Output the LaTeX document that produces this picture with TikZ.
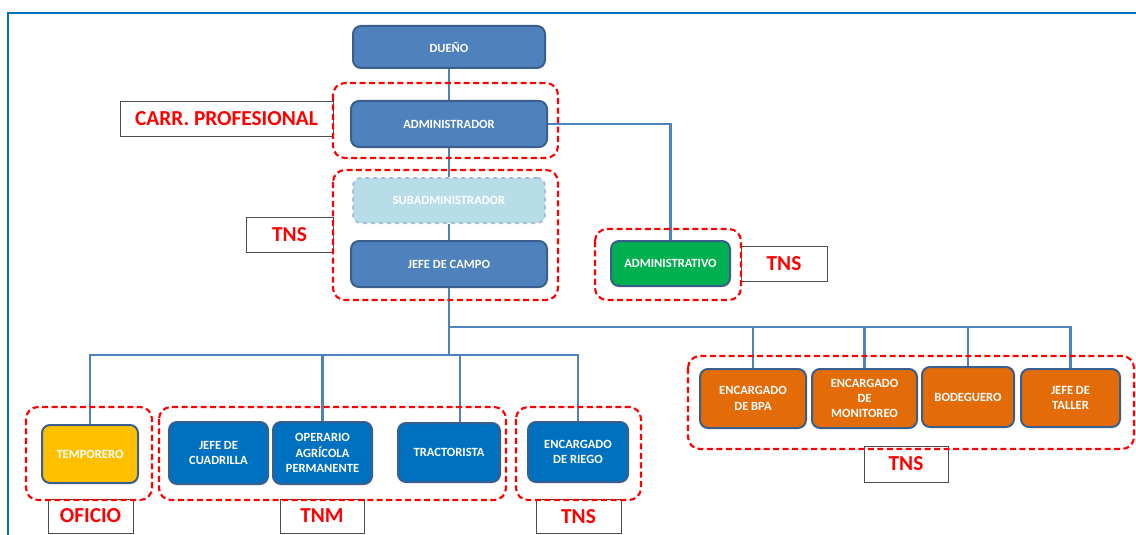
\documentclass[tikz,border=0pt]{standalone}
\usepackage{fontspec}
\setmainfont{Carlito}
\usetikzlibrary{calc}

\definecolor{azul}{HTML}{4F81BD}
\definecolor{azulborde}{HTML}{3A5F8C}
\definecolor{azulfuerte}{HTML}{0070C0}
\definecolor{celeste}{HTML}{B7DEE8}
\definecolor{celesteborde}{HTML}{A9BCD9}
\definecolor{naranjo}{HTML}{E36C09}
\definecolor{verde}{HTML}{00B050}
\definecolor{amarillo}{HTML}{FFC000}
\definecolor{rojo}{HTML}{FF0000}

\tikzset{
  cargo/.style={draw=azulborde, line width=1.5pt, rounded corners=6pt, text=white,
    font=\bfseries\fontsize{9.4}{11.5}\selectfont, align=center, inner sep=1pt},
  grupo/.style={draw=rojo, line width=1.6pt, dash pattern=on 4.5pt off 2.6pt, rounded corners=9pt},
  nivel/.style={draw=black!70, line width=0.6pt, fill=white, text=rojo,
    font=\bfseries\fontsize{16}{18}\selectfont, inner sep=0pt},
  enlace/.style={draw=azul, line width=1.6pt}
}

\begin{document}
\begin{tikzpicture}[x=0.75pt,y=0.75pt,yscale=-1,xscale=1]
            \useasboundingbox (0,0) rectangle (1136,535);
            \draw[azulfuerte, line width=1.5pt] (1136,13.5) -- (7.5,13.5) -- (7.5,535);
            % cargos
            \node[cargo, fill=azul, minimum width=144pt, minimum height=31.5pt] (dueno) at (449,47) {DUEÑO};
            \node[cargo, fill=azul, minimum width=147pt, minimum height=34.5pt] (admin) at (449,124) {ADMINISTRADOR};
            \node[cargo, fill=celeste, draw=celesteborde, dashed, minimum width=144pt, minimum height=33.75pt] (subadmin) at (449,200.5) {SUBADMINISTRADOR};
            \node[cargo, fill=azul, minimum width=147pt, minimum height=34.5pt] (jefecampo) at (449,264) {JEFE DE CAMPO};
            \node[cargo, fill=verde, minimum width=89.25pt, minimum height=33.75pt] (administrativo) at (670.5,263.5) {ADMINISTRATIVO};
            \node[cargo, fill=amarillo, minimum width=72pt, minimum height=43.5pt] (temporero) at (90,454) {TEMPORERO};
            \node[cargo, fill=azulfuerte, minimum width=74.25pt, minimum height=46.5pt] (cuadrilla) at (218.5,453) {JEFE DE\\CUADRILLA};
            \node[cargo, fill=azulfuerte, minimum width=74.25pt, minimum height=46.5pt] (operario) at (322.5,453) {OPERARIO\\AGRÍCOLA\\PERMANENTE};
            \node[cargo, fill=azulfuerte, minimum width=76.5pt, minimum height=44.25pt] (tractorista) at (449,452.5) {TRACTORISTA};
            \node[cargo, fill=azulfuerte, minimum width=75pt, minimum height=45pt] (riego) at (578,452) {ENCARGADO\\DE RIEGO};
            \node[cargo, fill=naranjo, minimum width=79.5pt, minimum height=44.25pt] (bpa) at (753,398.5) {ENCARGADO\\DE BPA};
            \node[cargo, fill=naranjo, minimum width=78.75pt, minimum height=44.25pt] (monitoreo) at (864.5,398.5) {ENCARGADO\\DE\\MONITOREO};
            \node[cargo, fill=naranjo, minimum width=69pt, minimum height=45pt] (bodeguero) at (968,397) {BODEGUERO};
            \node[cargo, fill=naranjo, minimum width=74.25pt, minimum height=43.5pt] (taller) at (1070.5,398) {JEFE DE\\TALLER};
            % lineas de mando
            \coordinate (ramader) at (449,327);
            \coordinate (ramaizq) at (449,355);
            \draw[enlace] (dueno) -- (admin);
            \draw[enlace] (admin) -- (subadmin);
            \draw[enlace] (subadmin) -- (jefecampo);
            \draw[enlace] (admin.east) -| (administrativo.north);
            \draw[enlace] (jefecampo) -- (ramaizq);
            \draw[enlace] (ramaizq) -| (temporero.north);
            \draw[enlace] (ramaizq) -| (operario.north);
            \draw[enlace] (ramaizq) -| ($(tractorista.north)+(11,0)$);
            \draw[enlace] (ramaizq) -| (riego.north);
            \draw[enlace] (ramader) -| (bpa.north);
            \draw[enlace] (ramader) -| (monitoreo.north);
            \draw[enlace] (ramader) -| (bodeguero.north);
            \draw[enlace] (ramader) -| (taller.north);
            % niveles de formacion
            \node[nivel, minimum width=159.75pt, minimum height=26.25pt] (carr) at (226.5,118.5) {CARR. PROFESIONAL};
            \node[nivel, minimum width=65.25pt, minimum height=26.25pt] (tnsjefe) at (289.5,234.5) {TNS};
            \node[nivel, minimum width=64.5pt, minimum height=26.25pt] (tnsadm) at (784,263.5) {TNS};
            \node[nivel, minimum width=63.75pt, minimum height=25.5pt] (oficio) at (90.5,516) {OFICIO};
            \node[nivel, minimum width=63pt, minimum height=25.5pt] (tnm) at (322,516) {TNM};
            \node[nivel, minimum width=63.75pt, minimum height=25.5pt] (tnsriego) at (578.5,516.5) {TNS};
            \node[nivel, minimum width=63pt, minimum height=27pt] (tnsbpa) at (906,464) {TNS};
            \draw[grupo] (333,83) rectangle (558,158);
            \draw[grupo] (333,170) rectangle (558,300);
            \draw[grupo] (595,229) rectangle (741,300);
            \draw[grupo] (26,407) rectangle (152,500);
            \draw[grupo] (159,407) rectangle (506,500);
            \draw[grupo] (516,407) rectangle (641,500);
            \draw[grupo] (688,356) rectangle (1134,449);
        \end{tikzpicture}
\end{document}
